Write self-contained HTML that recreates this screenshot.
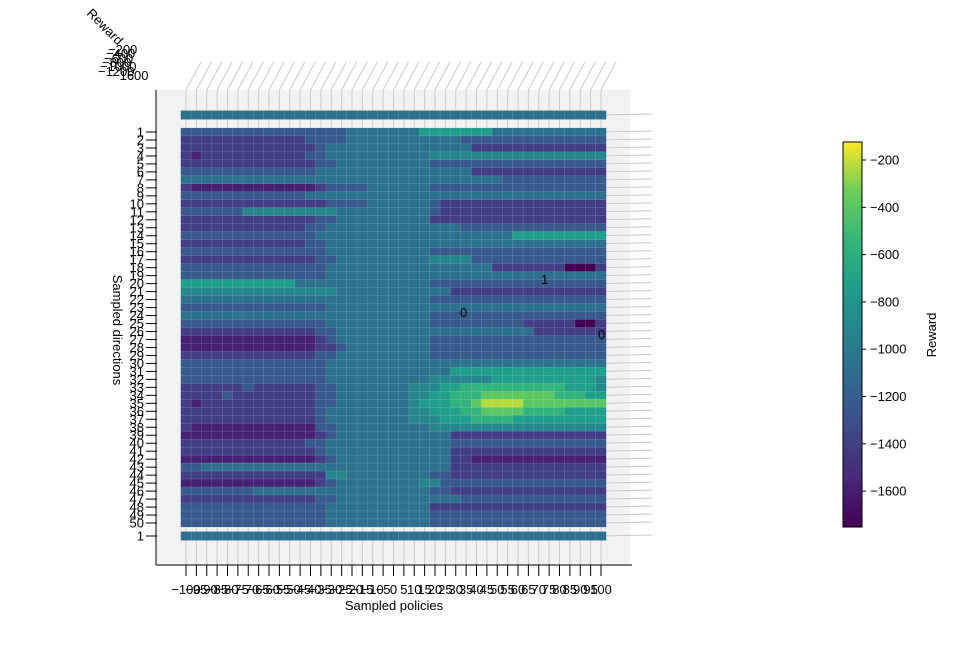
<!DOCTYPE html>
<html><head><meta charset="utf-8"><style>
body{margin:0;background:#fff;}
svg{display:block;font-family:"Liberation Sans",sans-serif;}
</style></head><body>
<svg id="chart" width="955" height="648" xmlns="http://www.w3.org/2000/svg">
<defs>
<linearGradient id="vir" x1="0" y1="1" x2="0" y2="0">
<stop offset="0" stop-color="#440154"/><stop offset="0.125" stop-color="#482878"/><stop offset="0.25" stop-color="#3e4989"/><stop offset="0.375" stop-color="#31688e"/><stop offset="0.5" stop-color="#26828e"/><stop offset="0.625" stop-color="#1f9e89"/><stop offset="0.75" stop-color="#35b779"/><stop offset="0.875" stop-color="#6ece58"/><stop offset="1" stop-color="#fde725"/>
</linearGradient>
</defs>
<rect x="156" y="90" width="474" height="475" fill="#f2f2f2"/>
<g id="grid"></g>
<g id="cells"></g>
<line x1="156" y1="90" x2="156" y2="565" stroke="#000" stroke-width="1"/>
<line x1="156" y1="565" x2="632" y2="565" stroke="#000" stroke-width="1"/>
<g id="yticks"></g>
<g id="xticks"></g>
<text x="394" y="610" font-size="13" text-anchor="middle">Sampled policies</text>
<text transform="translate(113,330) rotate(90)" font-size="13" text-anchor="middle">Sampled directions</text>
<text transform="translate(86,14) rotate(45)" font-size="13">Reward</text>
<g font-size="13">
<text x="108" y="54">−200</text><text x="106" y="58">−400</text><text x="104" y="63">−600</text><text x="102" y="67">−800</text><text x="100" y="71">−1000</text><text x="98" y="76">−1200</text><text x="112" y="80">−1600</text>
</g>
<g font-size="13">
<text x="541" y="284">1</text><text x="598" y="339">0</text><text x="460" y="317">0</text>
</g>
<rect x="843" y="142" width="19" height="385" fill="url(#vir)" stroke="#000" stroke-width="1"/>
<g id="cbticks"></g>
<text transform="translate(936,335) rotate(-90)" font-size="13" text-anchor="middle">Reward</text>
</svg>
<script>
const policies = [];
for (let p = -100; p <= 100; p += 5) policies.push(p);
const rowLabels = ["", "1","2","3","4","5","6","7","8","9","10","11","12","13","14","15","16","17","18","19","20","21","22","23","24","25","26","27","28","29","30","31","32","33","34","35","36","37","38","39","40","41","42","43","44","45","46","47","48","49","50","1"];
const levelValues = [-1750,-1580,-1410,-1240,-1070,-900,-730,-560,-390,-220];
const grid = [
"44444444444444"+"4444444444"+"44444444444444444",
"33333333333333"+"3344444446"+"66666644444444444",
"22222222222233"+"3344444444"+"44433333333333333",
"22222222222223"+"4444444444"+"44442222222222222",
"21222222222233"+"4444444444"+"55555555555555555",
"22222222222223"+"3444444444"+"33333333333333333",
"33333333333334"+"4444444444"+"44442222222222222",
"44444444444444"+"4444444444"+"44444443333333333",
"21111111111112"+"3333444444"+"33333333333333333",
"33333333333344"+"4444444444"+"44444444444444444",
"22222222222222"+"3333444444"+"32222222222222222",
"33333355555555"+"5444444444"+"32222222222222222",
"22222222222223"+"3444444444"+"22222222222222222",
"22222222222233"+"4444444444"+"44433333333333333",
"33333333333334"+"4444444444"+"44444444666666666",
"22222222222233"+"4444444444"+"44444444444444444",
"33333333333333"+"4444444444"+"33333333333333333",
"22222222222223"+"3444444444"+"55553333333333333",
"33333333333333"+"4444444444"+"44444422222220002",
"33333333333333"+"4444444444"+"44444444444444444",
"66666666666444"+"4444444444"+"33333333333333333",
"55555555555555"+"5444444444"+"44222222222222222",
"44444444444444"+"4444444444"+"33333333333333333",
"33333333333333"+"4444444444"+"44444444444444444",
"44444444444444"+"4444444444"+"33333333333333333",
"33333333333333"+"4444444444"+"33333333322222002",
"22222222222223"+"3444444444"+"44444444442222222",
"11111111111112"+"3444444444"+"33333333333333333",
"11111111111112"+"2344444444"+"33333333333333333",
"22222222222223"+"3444444444"+"33333333333333333",
"33333333333333"+"4444444444"+"44444444444444444",
"33333333333333"+"4444444444"+"44666666666666666",
"33333333333333"+"4444444444"+"55555566666666665",
"22222232222223"+"3444444455"+"56677777777776665",
"22223222222223"+"3444444455"+"66777888888877766",
"21222222222223"+"3444444456"+"66778999988888888",
"22222222222223"+"4444444455"+"66677888877776666",
"22222222222223"+"4444444455"+"56667777666666666",
"21111111111113"+"3444444444"+"55555555555555555",
"11111111111112"+"3444444444"+"44222222222222222",
"22222222222233"+"4444444444"+"44333333333333333",
"22222222222223"+"4444444444"+"44222222222222222",
"11111111111112"+"3444444444"+"44221111111111111",
"33444444444444"+"4444444444"+"44222222222222222",
"22222222222222"+"5544444444"+"33222222222222222",
"11111111111112"+"3444444445"+"53333333333333333",
"33333334444444"+"4444444444"+"33222222222222222",
"22222222222223"+"3444444444"+"44433333333333333",
"33333333333333"+"4444444444"+"22222222222222222",
"33333333333333"+"4444444444"+"33333333333333333",
"33333333333333"+"4444444444"+"33333333333333333",
"44444444444444"+"4444444444"+"44444444444444444"
];
const cbTicks = [-200,-400,-600,-800,-1000,-1200,-1400,-1600];

const NS = "http://www.w3.org/2000/svg";
const xScale = p => 186 + (p + 100) / 200 * 415;
function rowY(i){ if (i === 0) return 115; if (i === rowLabels.length-1) return 536; return 132 + 7.98*(i-1); }
const cbScale = v => 160 + (-200 - v) / 200 * 47.3;
const vmin = -1752, vmax = -122;
const stops = [[68,1,84],[72,40,120],[62,73,137],[49,104,142],[38,130,142],[31,158,137],[53,183,121],[110,206,88],[253,231,37]];
function viridis(v){
  let t = Math.max(0, Math.min(1, (v - vmin)/(vmax - vmin))) * (stops.length-1);
  const i = Math.min(stops.length-2, Math.floor(t)), f = t - i;
  const c = stops[i].map((a,k)=>Math.round(a + (stops[i+1][k]-a)*f));
  return `rgb(${c[0]},${c[1]},${c[2]})`;
}
function mk(tag, attrs, parent){ const e=document.createElementNS(NS,tag); for(const k in attrs) e.setAttribute(k,attrs[k]); parent.appendChild(e); return e; }

const gG = document.getElementById('grid');
policies.forEach(p => {
  const l = mk('line',{x1:xScale(p),y1:565,x2:xScale(p),y2:90,stroke:'#c8c8c8','stroke-width':1},gG);
  
  
  const d = mk('line',{x1:xScale(p),y1:90,x2:xScale(p)+15,y2:62,stroke:'#c8c8c8','stroke-width':1},gG);
  
  
});
rowLabels.forEach((lab,i) => {
  const y = rowY(i);
  const l = mk('line',{x1:600,y1:y,x2:652,y2:y-1,stroke:'#c8c8c8','stroke-width':1},gG);
  
  
});

const cG = document.getElementById('cells');
grid.forEach((row,i) => {
  const y = rowY(i);
  const h = (i===0||i===grid.length-1) ? 9 : 8.2;
  policies.forEach((p,j) => {
    const v = levelValues[+row[j]];
    const r = mk('rect',{x:(xScale(p)-5.3).toFixed(2),y:(y-h/2).toFixed(2),width:10.6,height:h,fill:viridis(v),stroke:'rgba(255,255,255,0.22)','stroke-width':0.5},cG);
    
    
  });
});

const yT = document.getElementById('yticks');
rowLabels.forEach((lab,i) => {
  if (lab === "") return;
  const y = rowY(i);
  const l = mk('line',{x1:146,y1:y,x2:157,y2:y,stroke:'#000','stroke-width':1},yT);
  
  
  const t = mk('text',{x:144,y:y+4.5,'font-size':13,'text-anchor':'end'},yT);
  t.textContent = lab;
  
  
});

const xT = document.getElementById('xticks');
policies.forEach(p => {
  const x = xScale(p);
  const l = mk('line',{x1:x,y1:565,x2:x,y2:576,stroke:'#000','stroke-width':1},xT);
  
  
  const t = mk('text',{x:x,y:594,'font-size':13,'text-anchor':'middle'},xT);
  t.textContent = (p<0?'−':'') + Math.abs(p);
  
  
});

const cbG = document.getElementById('cbticks');
cbTicks.forEach(v => {
  const y = cbScale(v);
  const l = mk('line',{x1:862,y1:y,x2:866,y2:y,stroke:'#000','stroke-width':1},cbG);
  
  
  const t = mk('text',{x:870,y:y+4.5,'font-size':13},cbG);
  t.textContent = '−' + Math.abs(v);
  
  
});
</script>
</body></html>
